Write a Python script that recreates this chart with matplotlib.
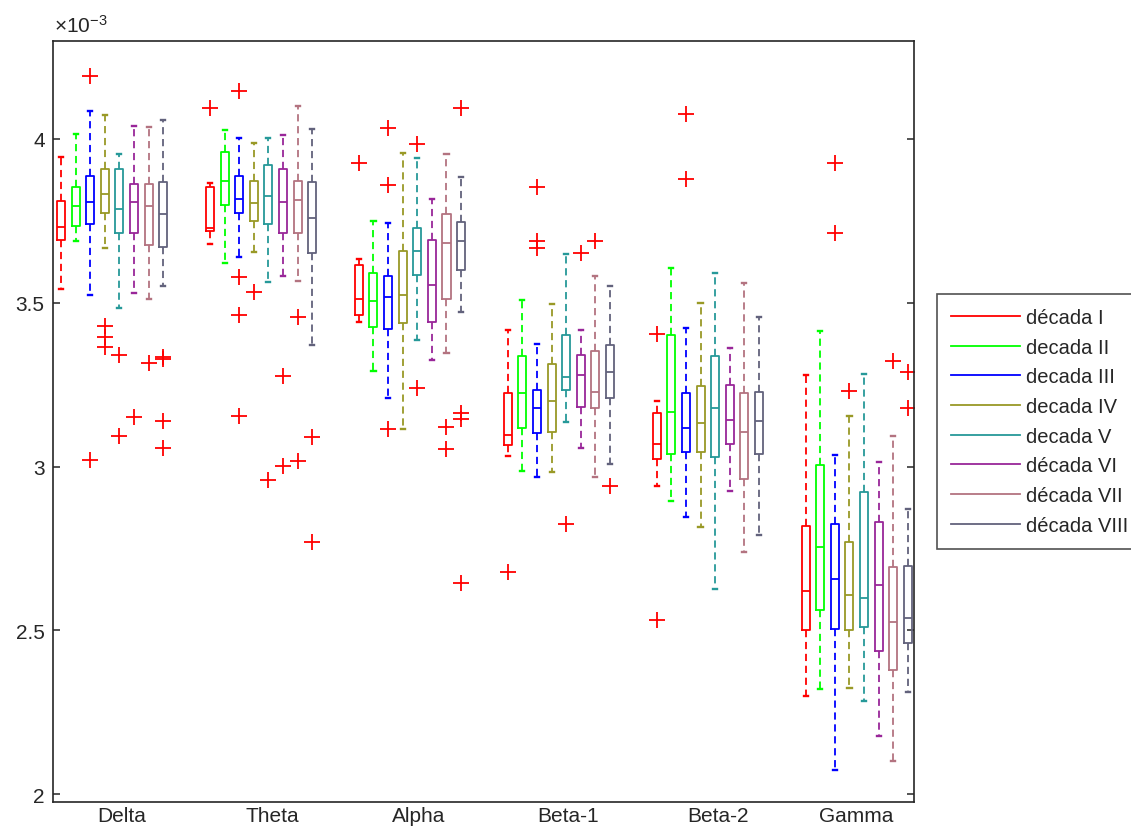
import matplotlib
matplotlib.use("Agg")
import matplotlib.pyplot as plt
from matplotlib.lines import Line2D

bands = ["Delta", "Theta", "Alpha", "Beta-1", "Beta-2", "Gamma"]
decades = ["década I", "decada II", "decada III", "decada IV",
           "decada V", "década VI", "década VII", "década VIII"]

# box statistics, one row per band, one column per decade (x 1e-3)
whisker_hi = [
    [3.944, 4.016, 4.085, 4.073, 3.954, 4.039, 4.035, 4.059],
    [3.866, 4.026, 4.004, 3.988, 4.004, 4.012, 4.101, 4.031],
    [3.635, 3.749, 3.742, 3.956, 3.941, 3.818, 3.955, 3.885],
    [3.418, 3.509, 3.374, 3.496, 3.648, 3.417, 3.583, 3.551],
    [3.201, 3.607, 3.424, 3.499, 3.591, 3.363, 3.560, 3.456],
    [3.280, 3.413, 3.036, 3.153, 3.284, 3.013, 3.093, 2.871],
]
box_q3 = [
    [3.810, 3.854, 3.887, 3.907, 3.909, 3.861, 3.862, 3.868],
    [3.852, 3.959, 3.886, 3.871, 3.922, 3.909, 3.871, 3.870],
    [3.614, 3.592, 3.582, 3.659, 3.729, 3.692, 3.770, 3.747],
    [3.224, 3.337, 3.234, 3.313, 3.401, 3.342, 3.353, 3.371],
    [3.163, 3.401, 3.224, 3.245, 3.337, 3.249, 3.223, 3.227],
    [2.819, 3.006, 2.824, 2.771, 2.921, 2.830, 2.693, 2.696],
]
medians = [
    [3.730, 3.796, 3.807, 3.832, 3.786, 3.807, 3.796, 3.771],
    [3.728, 3.873, 3.817, 3.803, 3.827, 3.807, 3.813, 3.758],
    [3.512, 3.505, 3.517, 3.523, 3.657, 3.553, 3.683, 3.689],
    [3.096, 3.225, 3.180, 3.199, 3.274, 3.279, 3.229, 3.290],
    [3.070, 3.165, 3.119, 3.132, 3.178, 3.141, 3.104, 3.140],
    [2.621, 2.753, 2.656, 2.609, 2.600, 2.639, 2.525, 2.539],
]
box_q1 = [
    [3.691, 3.735, 3.739, 3.773, 3.714, 3.712, 3.677, 3.670],
    [3.718, 3.798, 3.773, 3.749, 3.739, 3.713, 3.713, 3.652],
    [3.462, 3.425, 3.419, 3.437, 3.586, 3.441, 3.511, 3.600],
    [3.066, 3.119, 3.101, 3.104, 3.234, 3.183, 3.178, 3.209],
    [3.023, 3.038, 3.043, 3.045, 3.030, 3.068, 2.962, 3.038],
    [2.500, 2.561, 2.503, 2.500, 2.509, 2.436, 2.380, 2.461],
]
whisker_lo = [
    [3.542, 3.690, 3.524, 3.668, 3.484, 3.530, 3.512, 3.551],
    [3.680, 3.621, 3.640, 3.656, 3.562, 3.583, 3.565, 3.372],
    [3.440, 3.293, 3.209, 3.114, 3.387, 3.324, 3.347, 3.471],
    [3.031, 2.987, 2.969, 2.982, 3.135, 3.056, 2.969, 3.007],
    [2.941, 2.896, 2.845, 2.816, 2.626, 2.924, 2.740, 2.791],
    [2.301, 2.321, 2.075, 2.324, 2.284, 2.176, 2.100, 2.311],
]
# (band, decade, value)
outliers = [
    (0, 2, 4.191), (0, 2, 3.020), (0, 3, 3.428), (0, 3, 3.396), (0, 3, 3.364),
    (0, 4, 3.340), (0, 4, 3.092), (0, 5, 3.152), (0, 6, 3.316),
    (0, 7, 3.334), (0, 7, 3.328), (0, 7, 3.138), (0, 7, 3.057),
    (1, 0, 4.094), (1, 2, 4.145), (1, 2, 3.579), (1, 2, 3.464), (1, 2, 3.153),
    (1, 3, 3.532), (1, 4, 2.959), (1, 5, 3.275), (1, 5, 3.003),
    (1, 6, 3.457), (1, 6, 3.016), (1, 7, 3.091), (1, 7, 2.769),
    (2, 0, 3.928), (2, 2, 4.032), (2, 2, 3.858), (2, 2, 3.116),
    (2, 4, 3.984), (2, 4, 3.241), (2, 6, 3.121), (2, 6, 3.054),
    (2, 7, 4.096), (2, 7, 3.163), (2, 7, 3.145), (2, 7, 2.645),
    (3, 0, 2.679), (3, 2, 3.854), (3, 2, 3.690), (3, 2, 3.666),
    (3, 4, 2.825), (3, 5, 3.653), (3, 6, 3.690), (3, 7, 2.942),
    (4, 0, 3.404), (4, 0, 2.532), (4, 2, 4.076), (4, 2, 3.878),
    (5, 2, 3.928), (5, 2, 3.713), (5, 3, 3.231), (5, 6, 3.323),
    (5, 7, 3.289), (5, 7, 3.178),
]

colors = ["#ff0000", "#00ff00", "#0000ff", "#999926",
          "#269999", "#992699", "#b37380", "#62627c"]
axis_color = "#262626"
fs = 15

plt.rcParams["font.family"] = ["Liberation Sans", "DejaVu Sans"]
plt.rcParams["mathtext.fontset"] = "custom"
plt.rcParams["mathtext.rm"] = "Liberation Sans"
plt.rcParams["mathtext.it"] = "Liberation Sans"

fig = plt.figure(figsize=(11.31, 8.29), dpi=100)
ax = fig.add_axes([53 / 1131, 1 - 803 / 829, 861 / 1131, 761 / 829])

group_gap = 10.2
lw = 1.3
for d, c in enumerate(colors):
    stats = []
    for b in range(len(bands)):
        stats.append(dict(
            med=medians[b][d], q1=box_q1[b][d], q3=box_q3[b][d],
            whislo=whisker_lo[b][d], whishi=whisker_hi[b][d],
            fliers=[v for bb, dd, v in outliers if bb == b and dd == d],
        ))
    pos = [b * group_gap + d for b in range(len(bands))]
    ax.bxp(stats, positions=pos, widths=0.55, capwidths=0.28,
           boxprops=dict(color=c, lw=lw),
           whiskerprops=dict(color=c, lw=lw, ls=(0, (4, 2.6))),
           capprops=dict(color=c, lw=lw + 0.4),
           medianprops=dict(color=c, lw=lw),
           flierprops=dict(marker="+", markeredgecolor="red", markersize=12,
                           markeredgewidth=1.3, ls="none"),
           manage_ticks=False)

ax.set_xlim(-0.55, 58.42)
ax.set_ylim(1.976, 4.299)

ax.set_yticks([2, 2.5, 3, 3.5, 4])
ax.set_yticklabels(["2", "2.5", "3", "3.5", "4"])
ax.set_xticks([4.18, 14.45, 24.5, 34.7, 45.0, 54.45])
ax.set_xticklabels(bands)
ax.tick_params(axis="y", direction="in", length=5, width=1.1, left=True, right=True,
               colors=axis_color, labelsize=fs, pad=6)
ax.tick_params(axis="x", length=0, colors=axis_color, labelsize=fs, pad=3)
for s in ax.spines.values():
    s.set_color(axis_color)
    s.set_linewidth(1.2)

ax.annotate(r"$\times10^{-3}$", xy=(0, 1), xycoords="axes fraction",
            xytext=(1, 4), textcoords="offset points", ha="left", va="bottom",
            fontsize=fs, color=axis_color)

# legend sits right of the axes and runs past the figure edge
handles = [Line2D([], [], color=c, lw=lw) for c in colors]
leg = fig.legend(handles, decades, loc="upper left",
                 bbox_to_anchor=(937 / 1131, 1 - 295 / 829), fontsize=14.5,
                 frameon=True, fancybox=False, edgecolor=axis_color,
                 handlelength=3.4, handletextpad=0.3, borderpad=0.7,
                 labelspacing=0.53, borderaxespad=0)
leg.get_frame().set_linewidth(1.2)
for t in leg.get_texts():
    t.set_color(axis_color)

fig.savefig("out.png", dpi=100)
